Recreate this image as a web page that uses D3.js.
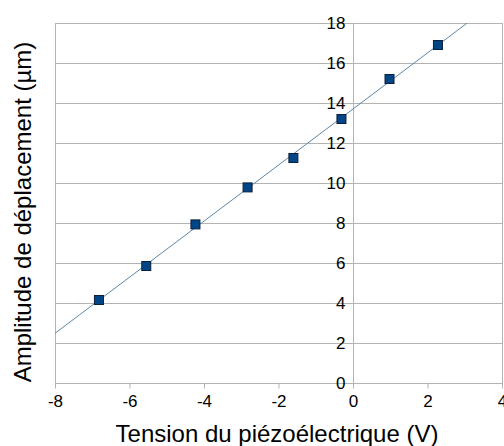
<!DOCTYPE html>
<html>
<head>
<meta charset="utf-8">
<script src="https://cdn.jsdelivr.net/npm/d3@7"></script>
<style>
  body { margin: 0; background: #fff; }
  text { font-family: "Liberation Sans", Arial, sans-serif; fill: #000; }
</style>
</head>
<body>
<svg id="chart" width="504" height="446"></svg>
<script>
// Measured piezo voltage (V) and displacement amplitude (µm)
const tension = [-6.82, -5.55, -4.23, -2.83, -1.60, -0.31, 0.98, 2.28];
const amplitude = [4.15, 5.85, 7.93, 9.78, 11.25, 13.2, 15.2, 16.9];
const xTicks = [-8, -6, -4, -2, 0, 2, 4];
const yTicks = [0, 2, 4, 6, 8, 10, 12, 14, 16, 18];
const xTitle = "Tension du piézoélectrique  (V)";
const yTitle = "Amplitude de déplacement (µm)";

const svg = d3.select("#chart");
const plotL = 55, plotR = 502, plotT = 23, plotB = 383;

const x = d3.scaleLinear().domain([-8, 4]).range([plotL, plotR]);
const y = d3.scaleLinear().domain([0, 18]).range([plotB, plotT]);

const grid = "#b3b3b3";
const tickFont = "17px";

// horizontal gridlines
svg.append("g").selectAll("line").data(yTicks).join("line")
  .attr("x1", plotL).attr("x2", plotR)
  .attr("y1", d => y(d) + 0.5).attr("y2", d => y(d) + 0.5)
  .attr("stroke", grid).attr("stroke-width", 1);

// plot frame verticals
svg.append("g").selectAll("line").data([-8, 4]).join("line")
  .attr("x1", d => Math.round(x(d)) + 0.5).attr("x2", d => Math.round(x(d)) + 0.5)
  .attr("y1", plotT).attr("y2", plotB + 1)
  .attr("stroke", grid);

// x axis along y = 0
const xAxis = svg.append("g")
  .attr("transform", `translate(0,${y(0) + 0.5})`)
  .call(d3.axisBottom(x).tickValues(xTicks).tickSize(5).tickPadding(6).tickFormat(d3.format("d")));
xAxis.select(".domain").remove();
xAxis.selectAll(".tick line").attr("stroke", grid);
xAxis.selectAll(".tick text")
  .style("font-family", "Liberation Sans, Arial, sans-serif").style("font-size", tickFont).attr("fill", "#000")
  .text(d => d < 0 ? "-" + Math.abs(d) : d);

// y axis crossing at x = 0
const yAxis = svg.append("g")
  .attr("transform", `translate(${Math.round(x(0)) + 0.5},0)`)
  .call(d3.axisLeft(y).tickValues(yTicks).tickSize(5).tickPadding(3).tickFormat(d3.format("d")));
yAxis.select(".domain").attr("stroke", grid).attr("d", `M0,${plotT}V${plotB + 1}`);
yAxis.selectAll(".tick line").attr("stroke", grid);
yAxis.selectAll(".tick text")
  .style("font-family", "Liberation Sans, Arial, sans-serif").style("font-size", tickFont).attr("fill", "#000");

// least-squares linear trend line through the measurements
const mx = d3.mean(tension), my = d3.mean(amplitude);
const slope = d3.sum(tension, (t, i) => (t - mx) * (amplitude[i] - my)) / d3.sum(tension, t => (t - mx) ** 2);
const icpt = my - slope * mx;
const xEnd = Math.min(4, (18 - icpt) / slope);
svg.append("clipPath").attr("id", "plotClip")
  .append("rect").attr("x", plotL).attr("y", plotT).attr("width", plotR - plotL).attr("height", plotB - plotT);
svg.append("line")
  .attr("clip-path", "url(#plotClip)")
  .attr("x1", x(-8)).attr("y1", y(icpt + slope * -8))
  .attr("x2", x(xEnd)).attr("y2", y(icpt + slope * xEnd))
  .attr("stroke", "#5b87a6").attr("stroke-width", 1);

// data markers
const s = 9;
svg.append("g").selectAll("rect").data(tension).join("rect")
  .attr("x", (d) => x(d) - s / 2).attr("y", (d, i) => y(amplitude[i]) - s / 2)
  .attr("width", s).attr("height", s)
  .attr("fill", "#004586").attr("stroke", "#0b1f3a").attr("stroke-width", 1);

// axis titles
svg.append("text")
  .attr("x", 277).attr("y", 442)
  .attr("text-anchor", "middle").style("font-size", "24px")
  .text(xTitle);
svg.append("text")
  .attr("transform", `translate(31,${212}) rotate(-90)`)
  .attr("text-anchor", "middle").style("font-size", "24px")
  .text(yTitle);
</script>
</body>
</html>
